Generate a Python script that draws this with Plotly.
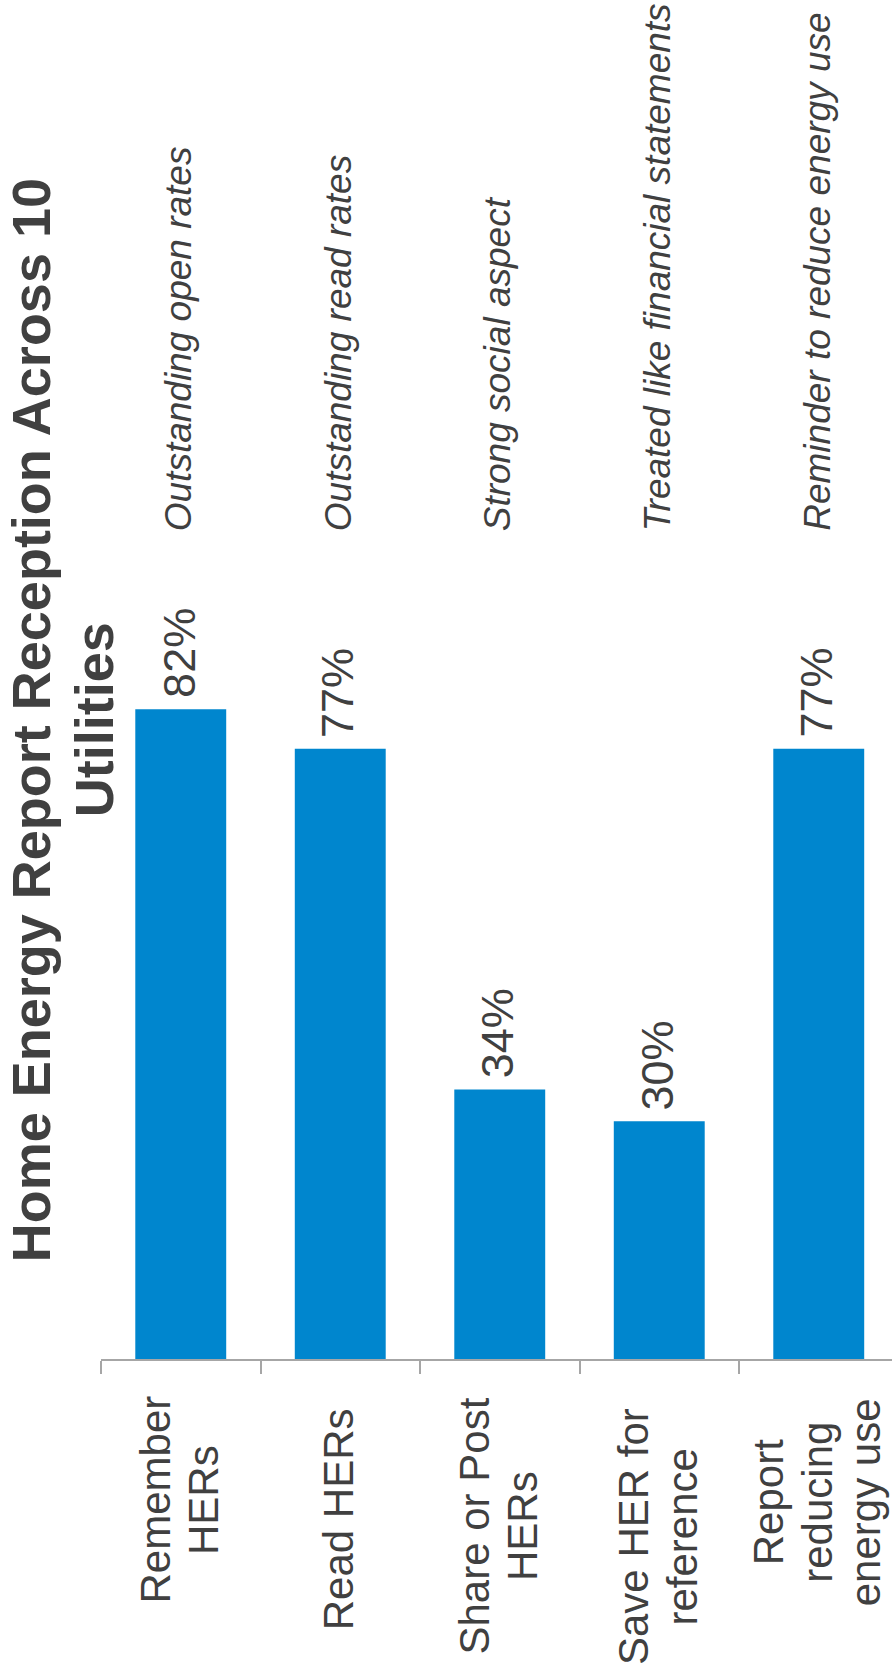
import plotly.graph_objects as go

# Survey results: share of customers per reception measure
categories = ["Remember HERs", "Read HERs", "Share or Post HERs",
              "Save HER for reference", "Report reducing energy use"]
tick_lines = [["Remember", "HERs"], ["Read HERs"], ["Share or Post", "HERs"],
              ["Save HER for", "reference"], ["Report", "reducing", "energy use"]]
values = [82, 77, 34, 30, 77]
notes = ["Outstanding open rates", "Outstanding read rates", "Strong social aspect",
         "Treated like financial statements", "Reminder to reduce energy use"]
title_lines = ["Home Energy Report Reception Across 10", "Utilities"]

# ---- layout geometry (page pixels) ----
W, H = 892, 1676
M_L, M_R, M_T, M_B = 101, 0, 0, 317
PLOT_W = W - M_L - M_R
PLOT_H = H - M_T - M_B
SLOT = 159.5                      # width of one category slot in px
PX_PER_UNIT = 7.925               # vertical px per percentage point

FONT = "Liberation Sans, Arial, sans-serif"
TEXT = "#404040"
BAR = "#0086CE"
AXIS = "#A6A6A6"


def py(p):
    """page y pixel -> paper fraction"""
    return (M_T + PLOT_H - p) / PLOT_H


def px(p):
    """page x pixel -> paper fraction"""
    return (p - M_L) / PLOT_W


fig = go.Figure(go.Bar(
    x=list(range(len(categories))),
    y=values,
    width=0.57,
    marker=dict(color=BAR, line=dict(width=0)),
    hovertext=categories,
    showlegend=False,
))

ann = []

# value labels above each bar
for i, v in enumerate(values):
    ann.append(dict(x=i, y=v, xref="x", yref="y", text=f"{v}%",
                    textangle=-90, showarrow=False, xanchor="center",
                    yanchor="bottom", yshift=9, xshift=-2,
                    font=dict(family=FONT, size=45, color=TEXT)))

# italic notes at the top of each column
for i, t in enumerate(notes):
    ann.append(dict(x=i, y=py(533), xref="x", yref="paper", text=f"<i>{t}</i>",
                    textangle=-90, showarrow=False, xanchor="center",
                    yanchor="bottom", xshift=-2,
                    font=dict(family=FONT, size=37, color=TEXT)))

# category labels below the axis, one annotation per line
label_mid = [1500, 1519, 1526, 1537, 1502]
LINE_GAP = 48.5
for i, lines in enumerate(tick_lines):
    n = len(lines)
    for j, line in enumerate(lines):
        ann.append(dict(x=i, y=py(label_mid[i]), xref="x", yref="paper",
                        text=line, textangle=-90, showarrow=False,
                        xanchor="center", yanchor="middle",
                        xshift=-2 + (j - (n - 1) / 2) * LINE_GAP,
                        font=dict(family=FONT, size=42, color=TEXT)))

# rotated title on the left
for cx, line in zip([31.3, 94.3], title_lines):
    ann.append(dict(x=px(cx), y=py(720), xref="paper", yref="paper",
                    text=f"<b>{line}</b>", textangle=-90, showarrow=False,
                    xanchor="center", yanchor="middle",
                    font=dict(family=FONT, size=54, color=TEXT)))

fig.update_layout(
    width=W, height=H,
    margin=dict(l=M_L, r=M_R, t=M_T, b=M_B, pad=0),
    paper_bgcolor="white", plot_bgcolor="white",
    bargap=0.43,
    annotations=ann,
    xaxis=dict(
        type="linear",
        range=[-0.5, -0.5 + PLOT_W / SLOT],
        showgrid=False, zeroline=False,
        showline=True, linecolor=AXIS, linewidth=1.5,
        ticks="outside", ticklen=13, tickwidth=1.5, tickcolor=AXIS,
        tickmode="array",
        tickvals=[i - 0.5 for i in range(len(categories))],
        showticklabels=False,
        fixedrange=True,
    ),
    yaxis=dict(
        range=[0, PLOT_H / PX_PER_UNIT],
        visible=False, showgrid=False, zeroline=False,
        fixedrange=True,
    ),
)

fig.write_html("out.html", config={"displayModeBar": False})
